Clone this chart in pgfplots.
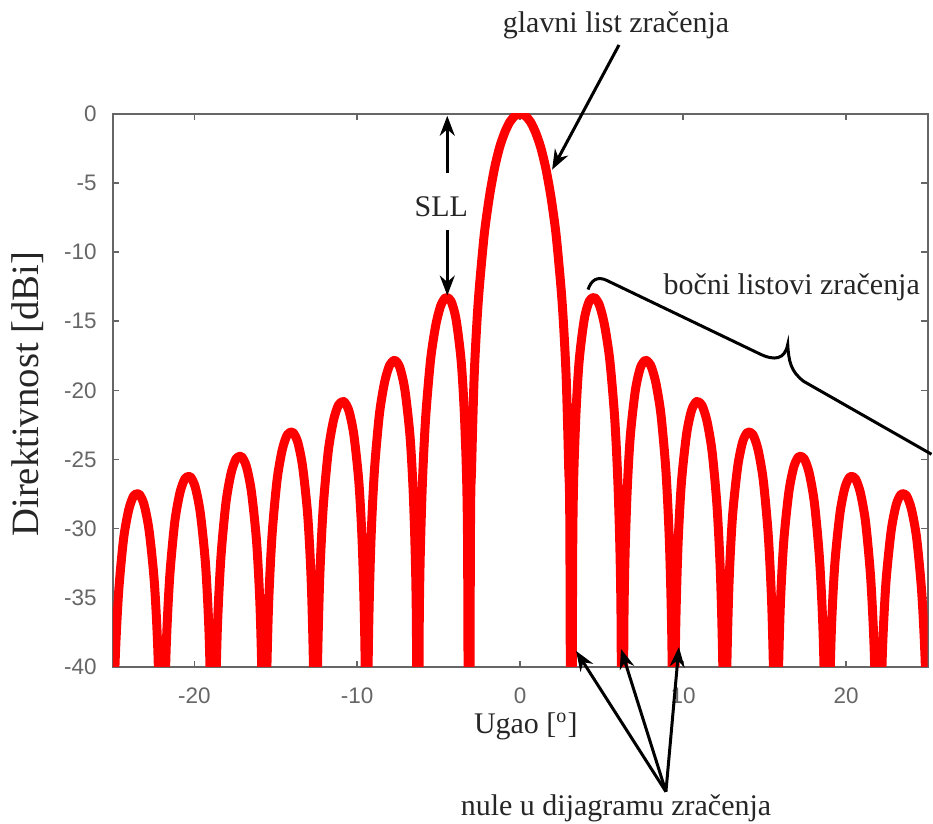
\documentclass[border=0pt]{standalone}
\usepackage{fontspec}
\setmainfont{Liberation Serif}
\setsansfont{Liberation Sans}
\usepackage{pgfplots}
\pgfplotsset{compat=1.18}
\usetikzlibrary{arrows.meta,decorations.pathreplacing}

\begin{document}
\begin{tikzpicture}
\begin{axis}[
  scale only axis, width=326.4pt, height=221.6pt,
  xmin=-25, xmax=25, ymin=-40, ymax=0,
  xtick={-20,-10,...,20}, ytick={-40,-35,...,0},
  axis line style={black!60, line width=0.8pt},
  major tick style={black!60, line width=0.6pt}, major tick length=2.5pt,
  tick label style={font=\fontsize{9}{10}\sffamily, text=black!60},
  /pgf/number format/assume math mode=true,
  yticklabel style={xshift=-3pt},
  xticklabel style={yshift=-5pt},
  xlabel={Ugao [\textsuperscript{o}]}, ylabel={Direktivnost [dBi]},
  xlabel style={font=\fontsize{12}{14}\selectfont, text=black!85, at={(axis description cs:0.507,-0.121)}, anchor=base},
  ylabel style={font=\fontsize{15.5}{18}\selectfont, text=black!85, at={(axis description cs:-0.104,0.493)}, anchor=center},
  clip mode=individual,
  lobe/.style={red, line width=3.6pt, line join=round, smooth, tension=0.45},
]
% right half
\addplot[lobe] coordinates {
(0,0) (0.31,-0.14) (0.63,-0.58) (0.94,-1.33) (1.26,-2.42) (1.57,-3.92) (1.88,-5.94)
(2.20,-8.69) (2.51,-12.62) (2.67,-15.39) (2.83,-19.23) (2.98,-25.61) (3.05,-30.21) (3.14,-60)
(3.23,-30.73) (3.39,-22.70) (3.61,-18.02) (3.93,-14.89) (4.24,-13.55) (4.55,-13.28) (4.87,-13.86)
(5.18,-15.29) (5.50,-17.81) (5.81,-22.15) (6.03,-27.70) (6.19,-36.36) (6.28,-60)
(6.37,-36.62) (6.53,-28.39) (6.75,-23.45) (7.07,-20.00) (7.38,-18.36) (7.69,-17.83) (8.01,-18.18)
(8.32,-19.41) (8.64,-21.74) (8.95,-25.90) (9.17,-31.34) (9.33,-39.93) (9.42,-60)
(9.51,-40.10) (9.67,-31.80) (9.89,-26.77) (10.21,-23.19) (10.52,-21.44) (10.83,-20.81) (11.15,-21.06)
(11.46,-22.19) (11.78,-24.43) (12.09,-28.51) (12.31,-33.90) (12.47,-42.45) (12.56,-60)
(12.65,-42.58) (12.81,-34.25) (13.03,-29.16) (13.35,-25.52) (13.66,-23.71) (13.97,-23.02) (14.29,-23.21)
(14.60,-24.29) (14.92,-26.49) (15.23,-30.52) (15.45,-35.87) (15.61,-44.40) (15.70,-60)
(15.79,-44.50) (15.95,-36.15) (16.17,-31.04) (16.49,-27.36) (16.80,-25.51) (17.11,-24.78) (17.43,-24.94)
(17.74,-25.98) (18.06,-28.15) (18.37,-32.15) (18.59,-37.48) (18.75,-45.99) (18.84,-60)
(18.93,-46.08) (19.09,-37.71) (19.31,-32.58) (19.63,-28.87) (19.94,-27.00) (20.25,-26.24) (20.57,-26.38)
(20.88,-27.40) (21.20,-29.54) (21.51,-33.52) (21.73,-38.84) (21.89,-47.34) (21.98,-60)
(22.07,-47.41) (22.23,-39.03) (22.45,-33.89) (22.77,-30.16) (23.08,-28.27) (23.39,-27.50) (23.71,-27.61)
(24.02,-28.62) (24.34,-30.74) (24.65,-34.70) (24.87,-40.01) (25.03,-48.50) (25.12,-60)
};
% left half
\addplot[lobe] coordinates {
(0,0) (-0.31,-0.14) (-0.63,-0.58) (-0.94,-1.33) (-1.26,-2.42) (-1.57,-3.92) (-1.88,-5.94)
(-2.20,-8.69) (-2.51,-12.62) (-2.67,-15.39) (-2.83,-19.23) (-2.98,-25.61) (-3.05,-30.21) (-3.14,-60)
(-3.23,-30.73) (-3.39,-22.70) (-3.61,-18.02) (-3.93,-14.89) (-4.24,-13.55) (-4.55,-13.28) (-4.87,-13.86)
(-5.18,-15.29) (-5.50,-17.81) (-5.81,-22.15) (-6.03,-27.70) (-6.19,-36.36) (-6.28,-60)
(-6.37,-36.62) (-6.53,-28.39) (-6.75,-23.45) (-7.07,-20.00) (-7.38,-18.36) (-7.69,-17.83) (-8.01,-18.18)
(-8.32,-19.41) (-8.64,-21.74) (-8.95,-25.90) (-9.17,-31.34) (-9.33,-39.93) (-9.42,-60)
(-9.51,-40.10) (-9.67,-31.80) (-9.89,-26.77) (-10.21,-23.19) (-10.52,-21.44) (-10.83,-20.81) (-11.15,-21.06)
(-11.46,-22.19) (-11.78,-24.43) (-12.09,-28.51) (-12.31,-33.90) (-12.47,-42.45) (-12.56,-60)
(-12.65,-42.58) (-12.81,-34.25) (-13.03,-29.16) (-13.35,-25.52) (-13.66,-23.71) (-13.97,-23.02) (-14.29,-23.21)
(-14.60,-24.29) (-14.92,-26.49) (-15.23,-30.52) (-15.45,-35.87) (-15.61,-44.40) (-15.70,-60)
(-15.79,-44.50) (-15.95,-36.15) (-16.17,-31.04) (-16.49,-27.36) (-16.80,-25.51) (-17.11,-24.78) (-17.43,-24.94)
(-17.74,-25.98) (-18.06,-28.15) (-18.37,-32.15) (-18.59,-37.48) (-18.75,-45.99) (-18.84,-60)
(-18.93,-46.08) (-19.09,-37.71) (-19.31,-32.58) (-19.63,-28.87) (-19.94,-27.00) (-20.25,-26.24) (-20.57,-26.38)
(-20.88,-27.40) (-21.20,-29.54) (-21.51,-33.52) (-21.73,-38.84) (-21.89,-47.34) (-21.98,-60)
(-22.07,-47.41) (-22.23,-39.03) (-22.45,-33.89) (-22.77,-30.16) (-23.08,-28.27) (-23.39,-27.50) (-23.71,-27.61)
(-24.02,-28.62) (-24.34,-30.74) (-24.65,-34.70) (-24.87,-40.01) (-25.03,-48.50) (-25.12,-60)
};
\end{axis}

% annotations, in pixel units of the original figure (origin top left)
\begin{scope}[shift={(current axis.south west)}, x=0.4pt, y=-0.4pt, shift={(-113,-668)},
  every node/.style={font=\fontsize{12}{14}\selectfont, text=black!85, inner sep=0pt},
  arr/.style={line width=1.2pt, -{Stealth[length=8pt,width=6pt]}}]
  \path (0,0) rectangle (933,825);
  \node[anchor=base] at (617,33) {glavni list zračenja};
  \draw[arr] (620,45) -- (553,170);
  \node[anchor=base] at (442,217) {SLL};
  \draw[arr] (448,173) -- (448,116);
  \draw[arr] (448,230) -- (448,296);
  \node[anchor=base] at (793,295) {bočni listovi zračenja};
  \draw[line width=1.2pt] (589,290) .. controls (592,281) and (598,276) .. (608,281)
    -- (760,354) .. controls (776,362) and (786,360) .. (789,345)
    .. controls (790,362) and (792,372) .. (805,382) -- (933,455);
  \node[anchor=base] at (617,817) {nule u dijagramu zračenja};
  \draw[arr] (667,793) -- (577,652);
  \draw[arr] (667,793) -- (622,650);
  \draw[arr] (667,793) -- (680,648);
\end{scope}
\end{tikzpicture}
\end{document}
